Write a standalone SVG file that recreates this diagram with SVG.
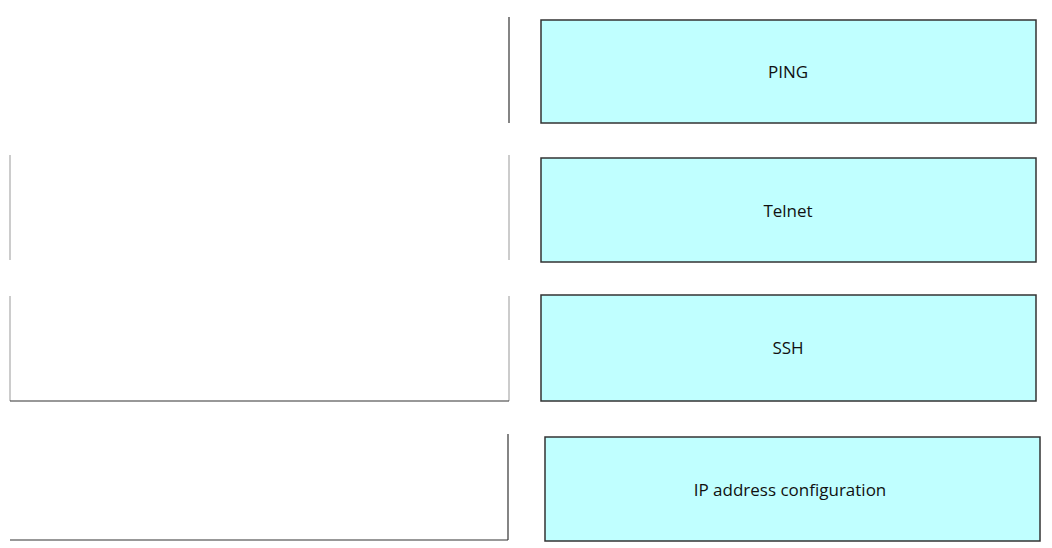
<svg xmlns="http://www.w3.org/2000/svg" width="1052" height="548" viewBox="0 0 1052 548">
<style>
.b{fill:#c0ffff;stroke:#333;stroke-width:1.5}
.l{stroke:#333;stroke-width:1.2;fill:none}
.lt{stroke:#999;stroke-width:1;fill:none}
text{font-family:"Open Sans","Liberation Sans",sans-serif;font-size:17px;fill:#111;text-anchor:middle}
</style>
<rect width="1052" height="548" fill="#fff"/>
<g id="slot1"><path class="l" d="M509 17V123"/></g>
<g id="slot2"><path class="lt" d="M10 155V260"/><path class="lt" d="M509 155V260"/></g>
<g id="slot3"><path class="lt" d="M10 296V401"/><path class="lt" d="M509 296V401"/><path class="l" d="M10 401H509"/></g>
<g id="slot4"><path class="l" d="M508 434V540"/><path class="l" d="M10 540H508"/></g>
<g id="ping"><rect class="b" x="541" y="20" width="495" height="103"/><text x="788" y="78">PING</text></g>
<g id="telnet"><rect class="b" x="541" y="158" width="495" height="104"/><text x="788" y="217">Telnet</text></g>
<g id="ssh"><rect class="b" x="541" y="295" width="495" height="106"/><text x="788" y="354">SSH</text></g>
<g id="ipconf"><rect class="b" x="545" y="437" width="495" height="104"/><text x="790" y="496">IP address configuration</text></g>
<g id="connectors"/>
</svg>
